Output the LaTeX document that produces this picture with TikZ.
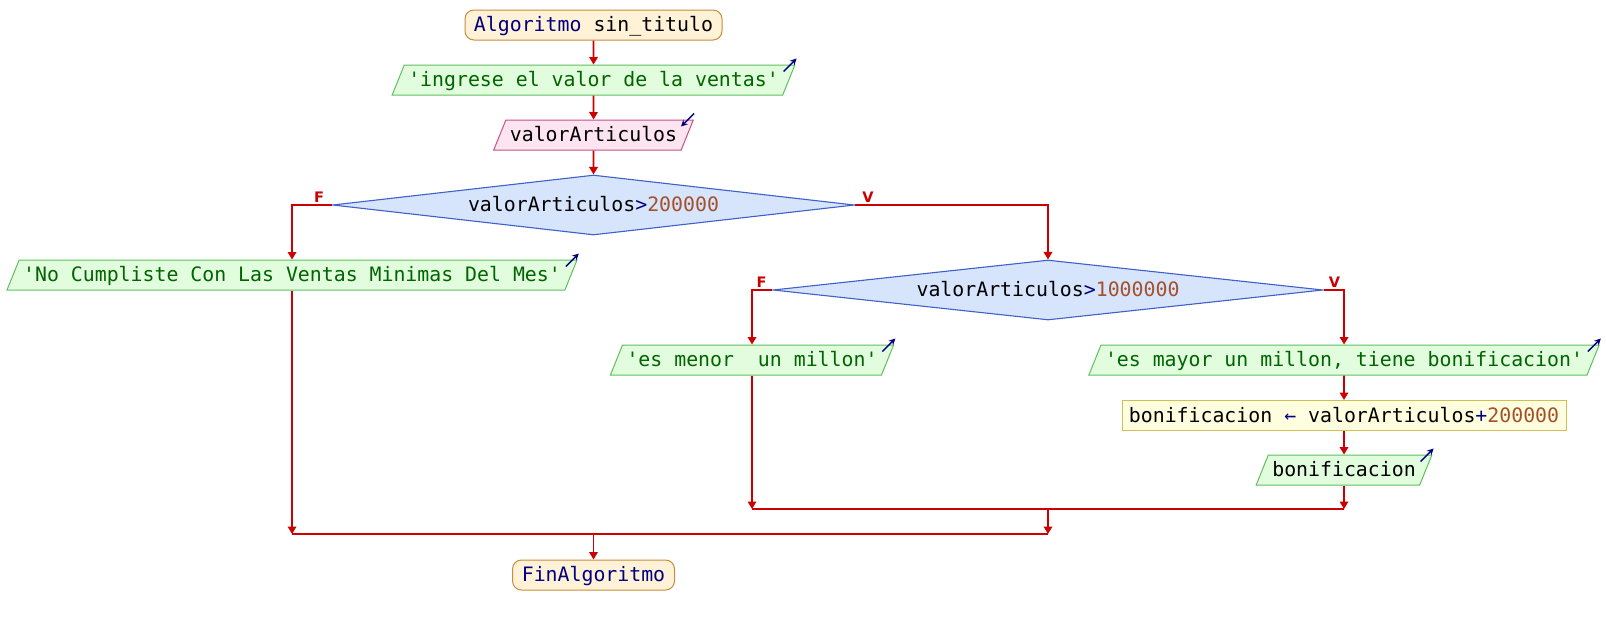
\documentclass[tikz,border=0pt]{standalone}
\usepackage{fontspec}
\setmonofont{DejaVu Sans Mono}
\newfontfamily\lblfont{DejaVu Sans}
\usetikzlibrary{shapes.geometric,arrows.meta}
\definecolor{flowred}{RGB}{204,0,0}
\definecolor{navy}{RGB}{0,0,128}
\definecolor{strgreen}{RGB}{0,100,0}
\definecolor{numbrown}{RGB}{165,80,40}
\definecolor{termfill}{RGB}{255,242,214}
\definecolor{termborder}{RGB}{200,140,60}
\definecolor{outfill}{RGB}{226,252,222}
\definecolor{outborder}{RGB}{96,192,96}
\definecolor{infill}{RGB}{252,228,240}
\definecolor{inborder}{RGB}{200,80,140}
\definecolor{decfill}{RGB}{214,228,252}
\definecolor{decborder}{RGB}{64,96,200}
\definecolor{asfill}{RGB}{255,255,224}
\definecolor{asborder}{RGB}{208,192,80}
\begin{document}
\begin{tikzpicture}[x=1pt,y=-1pt,
  base/.style={font=\ttfamily\fontsize{19.85pt}{24pt}\selectfont, text height=16.5pt, text depth=3.5pt, inner ysep=5pt, inner xsep=4pt, line width=1pt},
  term/.style={base, rectangle, draw=termborder, fill=termfill, rounded corners=9pt, minimum height=30pt, text=navy},
  para/.style={base, trapezium, trapezium left angle=68, trapezium right angle=112},
  outbox/.style={para, draw=outborder, fill=outfill, text=strgreen},
  inbox/.style={para, draw=inborder, fill=infill, text=black},
  decision/.style={base, diamond, draw=decborder, fill=decfill, inner sep=0pt, text=black, line width=1.1pt},
  assign/.style={base, rectangle, draw=asborder, fill=asfill, minimum height=30pt, text=black},
  flow/.style={draw=flowred, line width=1.8pt, -{Triangle[width=8.5pt,length=7.5pt]}},
  wire/.style={draw=flowred, line width=1.8pt},
  lbl/.style={font=\lblfont\bfseries\fontsize{14.5pt}{16pt}\selectfont, text=flowred, inner sep=0pt},
  icon/.style={draw=navy, line width=1.4pt, -{Stealth[length=6.5pt,width=6.5pt]}}
]
\useasboundingbox[fill=white] (0,0) rectangle (1606,625);

\node[term, minimum width=257pt] (start) at (593.5,25) {Algoritmo \textcolor{black}{sin\_titulo}};
\node[outbox] (o1) at (593.5,80) {'ingrese el valor de la ventas'};
\node[inbox] (in1) at (593.5,135) {valorArticulos};
\node[decision, aspect=8.7, minimum width=522pt, minimum height=60pt] (d1) at (593.5,205) {valorArticulos\textcolor{navy}{>}\textcolor{numbrown}{200000}};
\node[outbox] (o2) at (292,275) {'No Cumpliste Con Las Ventas Minimas Del Mes'};
\node[decision, aspect=9.17, minimum width=550pt, minimum height=60pt] (d2) at (1048,290) {valorArticulos\textcolor{navy}{>}\textcolor{numbrown}{1000000}};
\node[outbox] (o3) at (752,360) {'es menor\ \ un millon'};
\node[outbox] (o4) at (1344,360) {'es mayor un millon, tiene bonificacion'};
\node[assign, minimum width=444pt] (a1) at (1344,415.5) {bonificacion \textcolor{navy}{←} valorArticulos\textcolor{navy}{+}\textcolor{numbrown}{200000}};
\node[outbox, text=black] (o5) at (1344,470) {bonificacion};
\node[term, minimum width=162pt] (fin) at (593.5,575) {FinAlgoritmo};

\node[lbl, anchor=south] (lf1) at ([shift={(-13pt,2pt)}]d1.west) {F};
\node[lbl, anchor=south] (lv1) at ([shift={(13pt,2pt)}]d1.east) {V};
\node[lbl, anchor=south] (lf2) at ([shift={(-11pt,2pt)}]d2.west) {F};
\node[lbl, anchor=south] (lv2) at ([shift={(11pt,2pt)}]d2.east) {V};

\foreach \n in {o1,o2,o3,o4,o5}{
  \draw[icon] ([shift={(-12pt,-7pt)}]\n.top right corner) -- ([shift={(1pt,6pt)}]\n.top right corner);
}
\draw[icon] ([shift={(0pt,6pt)}]in1.top right corner) -- ([shift={(-13pt,-7pt)}]in1.top right corner);

\coordinate (j2) at (1048,509);
\coordinate (j1) at (593.5,534);

\draw[flow] (start.south) -- (o1.north);
\draw[flow] (o1.south) -- (in1.north);
\draw[flow] (in1.south) -- (d1.north);
\draw[flow] (d1.west) -| (o2.north);
\draw[flow] (d1.east) -| (d2.north);
\draw[flow] (d2.west) -| (o3.north);
\draw[flow] (d2.east) -| (o4.north);
\draw[flow] (o4.south) -- (a1.north);
\draw[flow] (a1.south) -- (o5.north);
\draw[flow] (o3.south) -- (o3.south |- j2);
\draw[flow] (o5.south) -- (o5.south |- j2);
\draw[wire] (o3.south |- j2) -- (o5.south |- j2);
\draw[flow] (j2) -- (j2 |- j1);
\draw[flow] (o2.south) -- (o2.south |- j1);
\draw[wire] (o2.south |- j1) -- (j2 |- j1);
\draw[flow] (j1) -- (fin.north);
\end{tikzpicture}
\end{document}
